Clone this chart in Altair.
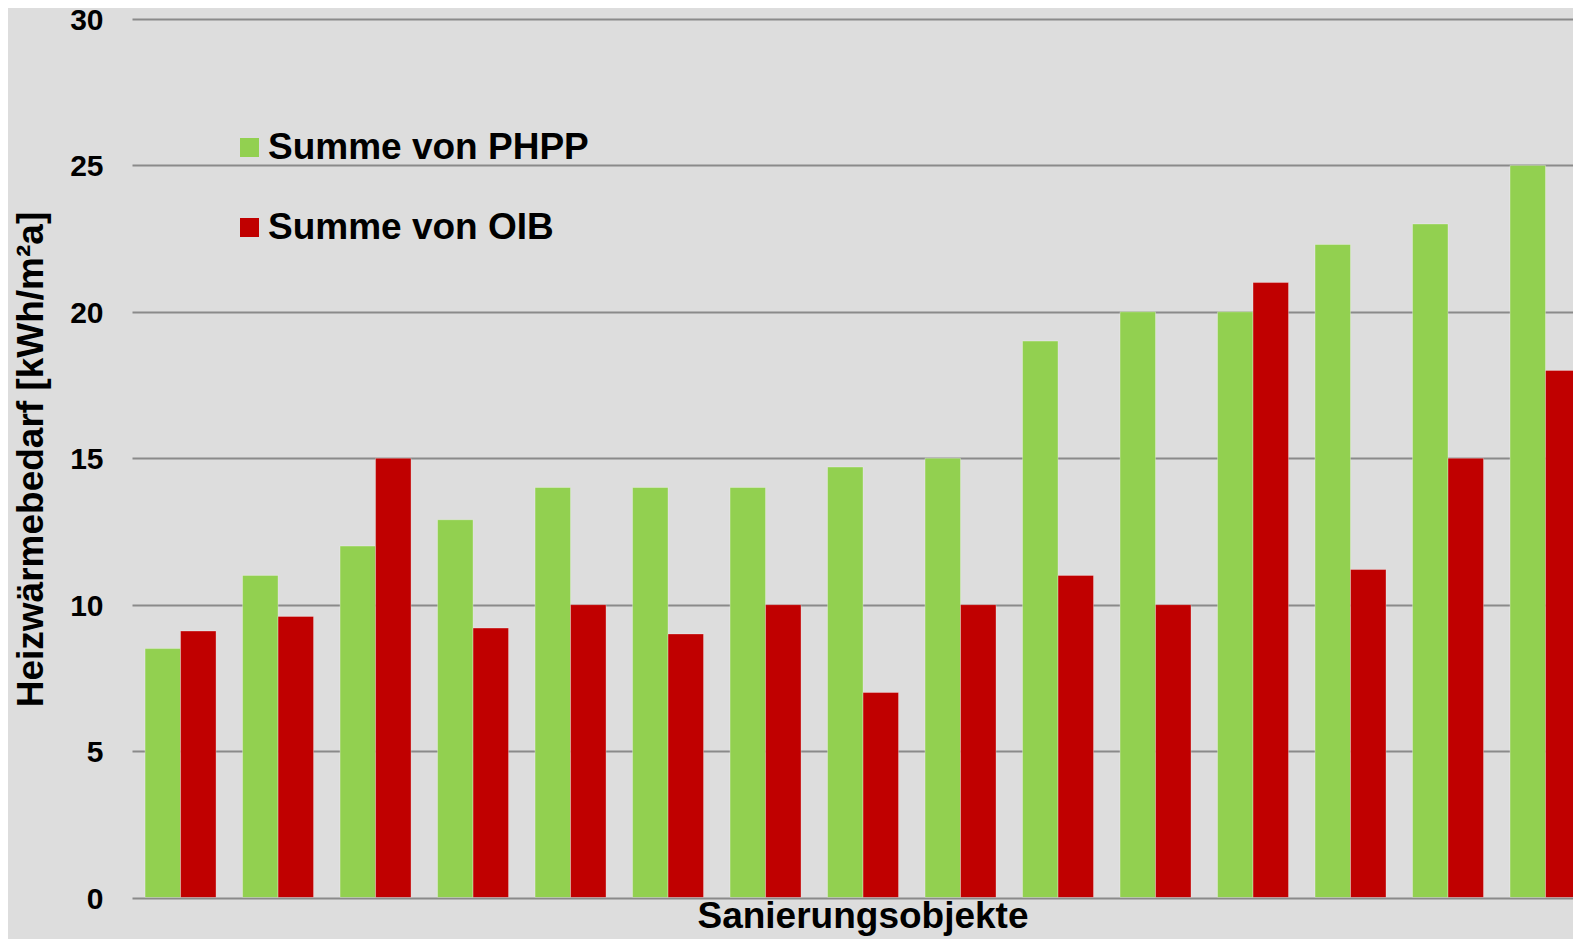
import altair as alt
import pandas as pd

objekte = [f"Objekt {i}" for i in range(1, 16)]
phpp = [8.5, 11.0, 12.0, 12.9, 14.0, 14.0, 14.0, 14.7, 15.0, 19.0, 20.0, 20.0, 22.3, 23.0, 25.0]
oib = [9.1, 9.6, 15.0, 9.2, 10.0, 9.0, 10.0, 7.0, 10.0, 11.0, 10.0, 21.0, 11.2, 15.0, 18.0]
serien = ["Summe von PHPP", "Summe von OIB"]
farben = ["#92D050", "#C00000"]
y_ticks = [0, 5, 10, 15, 20, 25, 30]

rows = []
for i, o in enumerate(objekte):
    rows.append({"Objekt": o, "Serie": serien[0], "Wert": phpp[i]})
    rows.append({"Objekt": o, "Serie": serien[1], "Wert": oib[i]})
df = pd.DataFrame(rows)

FONT = "Liberation Sans"
W = 1441          # visible plot width (page is 1581 wide with 8px margins)
W_FULL = 1449     # full category range; the last bar runs off the right edge
H = 878.5

chart = alt.Chart(df).mark_bar(
    stroke="#ffffff", strokeOpacity=0.3, strokeWidth=1, clip=True
).encode(
    x=alt.X(
        "Objekt:N", sort=objekte,
        scale=alt.Scale(range=[0, W_FULL], paddingInner=0.272, paddingOuter=0.067, align=1, round=False),
        axis=alt.Axis(
            title="Sanierungsobjekte", labels=False, ticks=False, domain=False, grid=False,
            titleFont=FONT, titleFontSize=37, titleFontWeight="bold", titleColor="#000000",
            titleX=730.5, titleY=30, titleBaseline="alphabetic", titleAlign="center",
        ),
    ),
    xOffset=alt.XOffset("Serie:N", sort=serien, scale=alt.Scale(paddingInner=0, paddingOuter=0)),
    y=alt.Y(
        "Wert:Q",
        scale=alt.Scale(domain=[0, 30], nice=False),
        axis=alt.Axis(
            values=y_ticks, title="Heizwärmebedarf [kWh/m²a]",
            labelFont=FONT, labelFontSize=30, labelFontWeight="bold", labelColor="#000000",
            labelPadding=29, labelOffset=1.5, ticks=False, domain=False,
            grid=True, gridColor="#8A8A8A", gridWidth=2,
            titleFont=FONT, titleFontSize=37, titleFontWeight="bold", titleColor="#000000",
            titleX=-90, titleY=440, titleBaseline="alphabetic", titleAlign="center", titleAngle=270,
        ),
    ),
    color=alt.Color(
        "Serie:N", sort=serien,
        scale=alt.Scale(domain=serien, range=farben),
        legend=alt.Legend(
            orient="none", legendX=99, legendY=110, direction="vertical", title=None,
            symbolType="square", symbolSize=361, symbolStrokeWidth=0,
            labelFont=FONT, labelFontSize=37, labelFontWeight="bold", labelColor="#000000",
            labelOffset=0, rowPadding=42, padding=0, labelLimit=0,
        ),
    ),
).properties(
    width=W, height=H,
    autosize=alt.AutoSizeParams(type="none"),
    padding={"left": 124, "top": 11, "right": 0, "bottom": 41},
    background="#DDDDDD",
).configure_view(stroke=None, fill="#DDDDDD")

chart.save("out.html", embed_options={"renderer": "svg", "actions": False})
